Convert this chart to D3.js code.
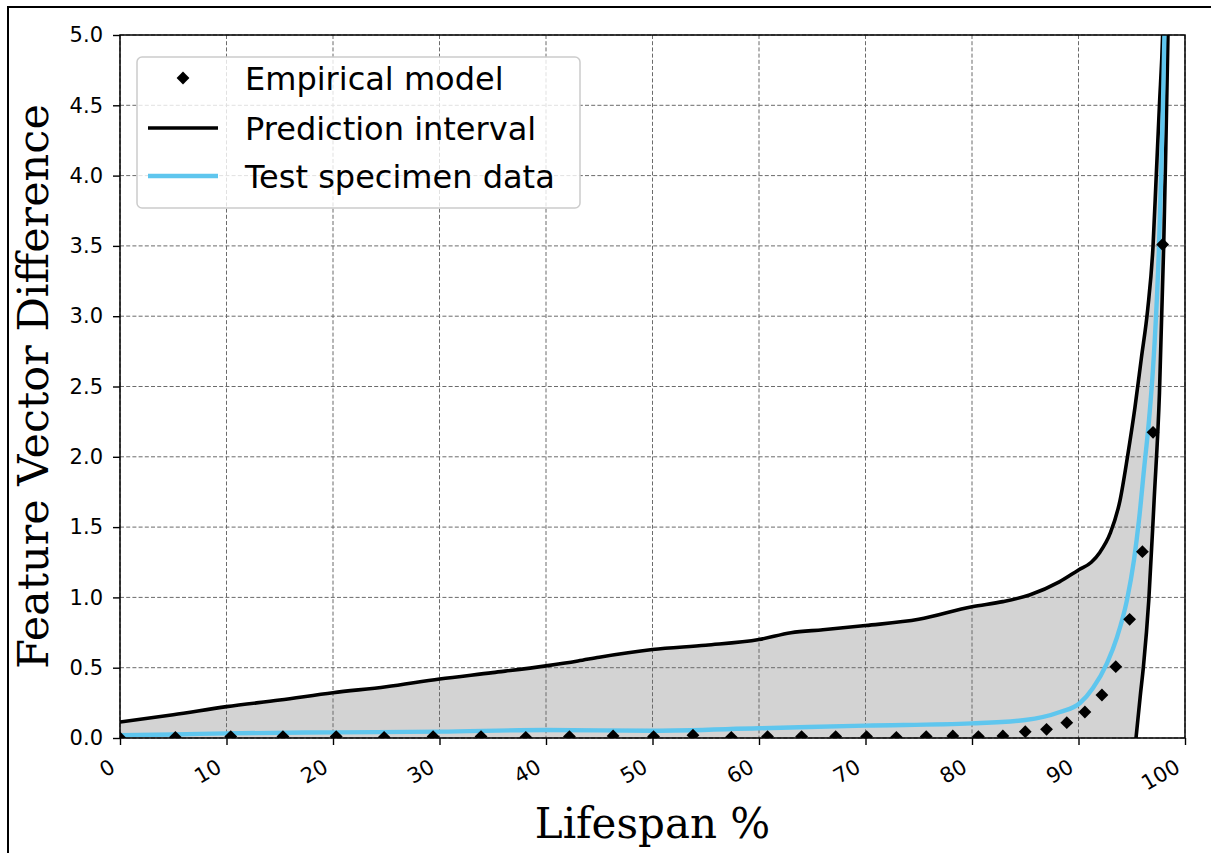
<!DOCTYPE html>
<html>
<head>
<meta charset="utf-8">
<script src="https://cdn.jsdelivr.net/npm/d3@7"></script>
<style>
  body { margin: 0; background: #fff; }
  svg { display: block; }
</style>
</head>
<body>
<div id="chart"></div>
<script>
// ---------------------------- DATA ----------------------------- //
const xTicks = [0, 10, 20, 30, 40, 50, 60, 70, 80, 90, 100];
const yTicks = [0, 0.5, 1, 1.5, 2, 2.5, 3, 3.5, 4, 4.5, 5];

const empiricalX = [0, 5.2, 10.4, 15.3, 20.3, 24.8, 29.4, 33.9, 38.1, 42.2, 46.3, 50.1, 53.8, 57.4,
  60.8, 64.0, 67.2, 70.1, 72.9, 75.7, 78.2, 80.6, 82.9, 85.0, 87.0, 88.9, 90.6, 92.2, 93.5, 94.8,
  96.0, 97.0, 97.9];
const empiricalY = [0, 0.005, 0.01, 0.01, 0.01, 0.005, 0.01, 0.01, 0.005, 0.01, 0.015, 0.01, 0.02, 0.005,
  0.01, 0.01, 0.01, 0.01, 0.005, 0.01, 0.015, 0.01, 0.015, 0.045, 0.062, 0.109, 0.185, 0.306, 0.507, 0.844,
  1.325, 2.174, 3.51];

const upperX = [0, 5, 10, 15, 20, 25, 30, 35, 40, 43, 45, 50, 55, 60, 63, 66, 70, 75, 80, 82.9,
  85.4, 88.2, 90, 91.2, 92, 93, 93.9, 94.6, 95.3, 95.9, 96.5, 97.0, 97.3, 97.6, 97.9, 98.2];
const upperY = [0.114, 0.165, 0.223, 0.27, 0.322, 0.365, 0.42, 0.465, 0.513, 0.548, 0.575, 0.63, 0.66,
  0.70, 0.749, 0.77, 0.80, 0.844, 0.934, 0.97, 1.017, 1.11, 1.195, 1.25, 1.32, 1.46, 1.69, 2.0, 2.35,
  2.7, 3.05, 3.5, 4.0, 4.5, 5.0, 6.0];

const lowerX = [94.9, 95.4, 95.8, 96.1, 96.6, 97.1, 97.6, 98.0, 98.2, 98.4, 98.6];
const lowerY = [-0.4, 0, 0.3, 0.51, 0.98, 1.69, 2.45, 3.5, 4.2, 5.0, 6.0];

const testX = [0, 5, 10, 20, 30, 40, 50, 60, 70, 80, 85, 88.26, 90.14, 91.36, 92.68, 93.62, 94.55,
  95.21, 95.68, 96.15, 96.62, 96.99, 97.28, 97.56, 97.75, 97.93, 98.07, 98.3];
const testY = [0.02, 0.025, 0.033, 0.04, 0.045, 0.057, 0.052, 0.069, 0.088, 0.104, 0.128, 0.185, 0.249,
  0.356, 0.533, 0.718, 0.981, 1.266, 1.55, 1.91, 2.26, 2.62, 3.0, 3.5, 3.98, 4.5, 5.01, 5.8];

const legendLabels = ['Empirical model', 'Prediction interval', 'Test specimen data'];

// ---------------------------- SETUP ---------------------------- //
const width = 1211;
const height = 853;
const plot = { left: 120, right: 1185, top: 35, bottom: 738 };
const blue = '#5fc6ee';

const svg = d3.select('#chart').append('svg')
  .attr('width', width)
  .attr('height', height);

// outer frame of the figure (only top and left edges are visible)
svg.append('rect')
  .attr('x', 8).attr('y', 7)
  .attr('width', width + 20).attr('height', height + 20)
  .attr('fill', 'none').attr('stroke', '#000').attr('stroke-width', 2);

const xScale = d3.scaleLinear().domain([0, 100]).range([plot.left, plot.right]);
const yScale = d3.scaleLinear().domain([0, 5]).range([plot.bottom, plot.top]);

const zip = (xs, ys) => xs.map((v, i) => [v, ys[i]]);
const upper = zip(upperX, upperY);
const lower = zip(lowerX, lowerY);
const test = zip(testX, testY);
const empirical = zip(empiricalX, empiricalY);

const defs = svg.append('defs');
defs.append('clipPath').attr('id', 'plotClip')
  .append('rect')
  .attr('x', plot.left).attr('y', plot.top)
  .attr('width', plot.right - plot.left).attr('height', plot.bottom - plot.top);

// region left of the lower bound, used to cut the shaded band
defs.append('clipPath').attr('id', 'lowerClip')
  .append('path')
  .attr('d', d3.area()
    .curve(d3.curveMonotoneY)
    .y(d => yScale(d[1]))
    .x0(xScale(-5))
    .x1(d => xScale(d[0]))(lower));

// ---------------------------- BAND ----------------------------- //
const data = svg.append('g').attr('clip-path', 'url(#plotClip)');

data.append('g').attr('clip-path', 'url(#lowerClip)')
  .append('path')
  .attr('d', d3.area()
    .curve(d3.curveMonotoneX)
    .x(d => xScale(d[0]))
    .y0(yScale(-1))
    .y1(d => yScale(d[1]))(upper))
  .attr('fill', '#d3d3d3');

// ---------------------------- GRID ----------------------------- //
const grid = svg.append('g')
  .attr('stroke', '#6b6b6b')
  .attr('stroke-width', 1)
  .attr('stroke-dasharray', '4,2.2');

grid.selectAll('line.gx')
  .data(xTicks)
  .enter().append('line')
  .attr('x1', d => xScale(d)).attr('x2', d => xScale(d))
  .attr('y1', plot.top).attr('y2', plot.bottom);

grid.selectAll('line.gy')
  .data(yTicks)
  .enter().append('line')
  .attr('y1', d => yScale(d)).attr('y2', d => yScale(d))
  .attr('x1', plot.left).attr('x2', plot.right);

// ---------------------------- LINES ---------------------------- //
const lines = svg.append('g').attr('clip-path', 'url(#plotClip)');

const line = d3.line()
  .curve(d3.curveMonotoneX)
  .x(d => xScale(d[0]))
  .y(d => yScale(d[1]));

lines.selectAll('path.bound')
  .data([upper, lower])
  .enter().append('path')
  .attr('d', line)
  .attr('fill', 'none')
  .attr('stroke', '#000')
  .attr('stroke-width', 3.6)
  .attr('stroke-linejoin', 'round');

lines.append('path')
  .attr('d', line(test))
  .attr('fill', 'none')
  .attr('stroke', blue)
  .attr('stroke-width', 4.4)
  .attr('stroke-linejoin', 'round');

const diamond = d3.symbol().type(d3.symbolSquare).size(82);

lines.selectAll('path.marker')
  .data(empirical)
  .enter().append('path')
  .attr('d', diamond)
  .attr('transform', d => `translate(${xScale(d[0])},${yScale(d[1])}) rotate(45)`)
  .attr('fill', '#000');

// ---------------------------- AXES ----------------------------- //
const yAxis = d3.axisLeft(yScale)
  .tickValues(yTicks)
  .tickFormat(d3.format('.1f'))
  .tickSize(7)
  .tickSizeOuter(0)
  .tickPadding(10);

const xAxis = d3.axisBottom(xScale)
  .tickValues(xTicks)
  .tickFormat(d3.format('d'))
  .tickSize(7)
  .tickSizeOuter(0);

const gy = svg.append('g')
  .attr('transform', `translate(${plot.left},0)`)
  .call(yAxis);

const gx = svg.append('g')
  .attr('transform', `translate(0,${plot.bottom})`)
  .call(xAxis);

[gx, gy].forEach((g) => {
  g.select('.domain').remove();
  g.selectAll('.tick line').attr('stroke', '#000').attr('stroke-width', 1.4);
  g.selectAll('.tick text')
    .attr('fill', '#000')
    .style('font-family', '"DejaVu Sans", sans-serif')
    .style('font-size', '21px');
});

gx.selectAll('.tick text')
  .attr('x', 0).attr('y', 0).attr('dy', 0)
  .attr('text-anchor', 'end')
  .attr('transform', 'translate(-4,33) rotate(-30)');

// spines
svg.append('rect')
  .attr('x', plot.left).attr('y', plot.top)
  .attr('width', plot.right - plot.left).attr('height', plot.bottom - plot.top)
  .attr('fill', 'none').attr('stroke', '#000').attr('stroke-width', 1.5);

svg.append('text')
  .attr('x', (plot.left + plot.right) / 2)
  .attr('y', 838)
  .attr('text-anchor', 'middle')
  .style('font-family', '"DejaVu Serif", serif')
  .style('font-size', '42px')
  .text('Lifespan %');

svg.append('text')
  .attr('transform', `translate(48,${(plot.top + plot.bottom) / 2}) rotate(-90)`)
  .attr('text-anchor', 'middle')
  .style('font-family', '"DejaVu Serif", serif')
  .style('font-size', '43px')
  .text('Feature Vector Difference');

// ---------------------------- LEGEND --------------------------- //
const legend = svg.append('g');

legend.append('rect')
  .attr('x', 137).attr('y', 57)
  .attr('width', 443).attr('height', 151)
  .attr('rx', 5)
  .attr('fill', 'rgba(255,255,255,0.8)')
  .attr('stroke', '#cccccc')
  .attr('stroke-width', 1.5);

const rowY = [78, 128, 176];

legend.append('path')
  .attr('d', diamond)
  .attr('transform', `translate(183,${rowY[0]}) rotate(45)`)
  .attr('fill', '#000');

legend.append('line')
  .attr('x1', 148).attr('x2', 218)
  .attr('y1', rowY[1]).attr('y2', rowY[1])
  .attr('stroke', '#000').attr('stroke-width', 3.6);

legend.append('line')
  .attr('x1', 148).attr('x2', 218)
  .attr('y1', rowY[2]).attr('y2', rowY[2])
  .attr('stroke', blue).attr('stroke-width', 4.4);

legend.selectAll('text.lab')
  .data(legendLabels)
  .enter().append('text')
  .attr('x', 245)
  .attr('y', (d, i) => rowY[i])
  .attr('dy', '0.36em')
  .style('font-family', '"DejaVu Sans", sans-serif')
  .style('font-size', '32px')
  .text(d => d);
</script>
</body>
</html>
